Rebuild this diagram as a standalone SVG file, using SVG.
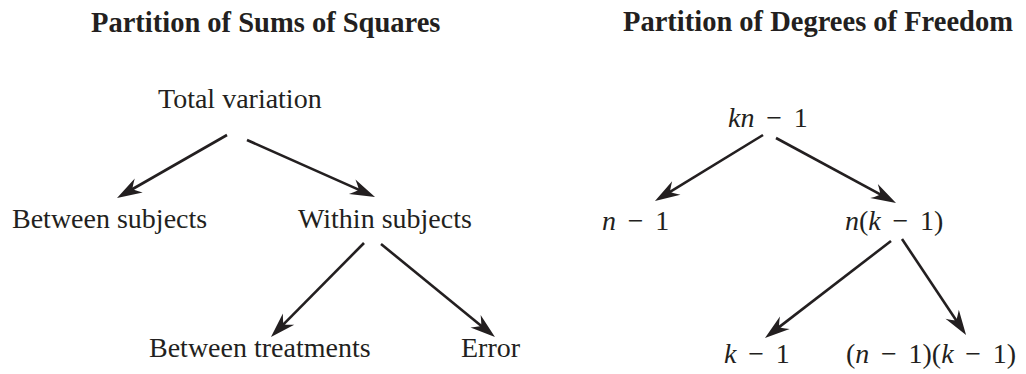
<svg xmlns="http://www.w3.org/2000/svg" width="1026" height="374" viewBox="0 0 1026 374">
<style>
text{font-family:"Liberation Serif","Times New Roman",serif;fill:#231f20;font-size:28px}
.t{font-weight:bold;font-size:28.5px}
.m{word-spacing:4.7px}
.i{font-style:italic}
.c line{stroke:#231f20;stroke-width:2.6;marker-end:url(#ah)}
</style>
<defs>
<marker id="ah" viewBox="-26 -10 28 20" refX="-10" refY="0" markerWidth="28" markerHeight="20" markerUnits="userSpaceOnUse" orient="auto">
<path d="M0,0 L-25,-8 Q-18,-1 -18,0 Q-18,1 -25,8 Z" fill="#231f20"/>
</marker>
</defs>
<rect width="1026" height="374" fill="#fff"/>
<text class="t" x="91" y="32">Partition of Sums of Squares</text>
<text class="t" x="623" y="31">Partition of Degrees of Freedom</text>
<g id="total"><text x="158" y="108">Total variation</text></g>
<g id="between-subjects"><text x="12" y="228">Between subjects</text></g>
<g id="within-subjects"><text x="298" y="228">Within subjects</text></g>
<g id="between-treatments"><text x="149" y="357">Between treatments</text></g>
<g id="error"><text x="461" y="357">Error</text></g>
<g id="df-total"><text class="m" x="728" y="127"><tspan class="i">kn</tspan> − 1</text></g>
<g id="df-between-subjects"><text class="m" x="602" y="230"><tspan class="i">n</tspan> − 1</text></g>
<g id="df-within-subjects"><text class="m" x="845" y="230"><tspan class="i">n</tspan>(<tspan class="i">k</tspan> − 1)</text></g>
<g id="df-treatments"><text class="m" x="724" y="363"><tspan class="i">k</tspan> − 1</text></g>
<g id="df-error"><text class="m" x="846" y="363">(<tspan class="i">n</tspan> − 1)(<tspan class="i">k</tspan> − 1)</text></g>
<g id="connectors" class="c">
<line x1="227" y1="135" x2="125.7" y2="193"/>
<line x1="247" y1="140" x2="365.9" y2="192.9"/>
<line x1="364" y1="243" x2="278" y2="329.9"/>
<line x1="381" y1="244" x2="487.2" y2="330.7"/>
<line x1="763" y1="135" x2="663.5" y2="195.8"/>
<line x1="776" y1="138" x2="887.2" y2="198.2"/>
<line x1="891" y1="241" x2="772.9" y2="331.9"/>
<line x1="902" y1="239" x2="960.5" y2="326.7"/>
</g>
</svg>
